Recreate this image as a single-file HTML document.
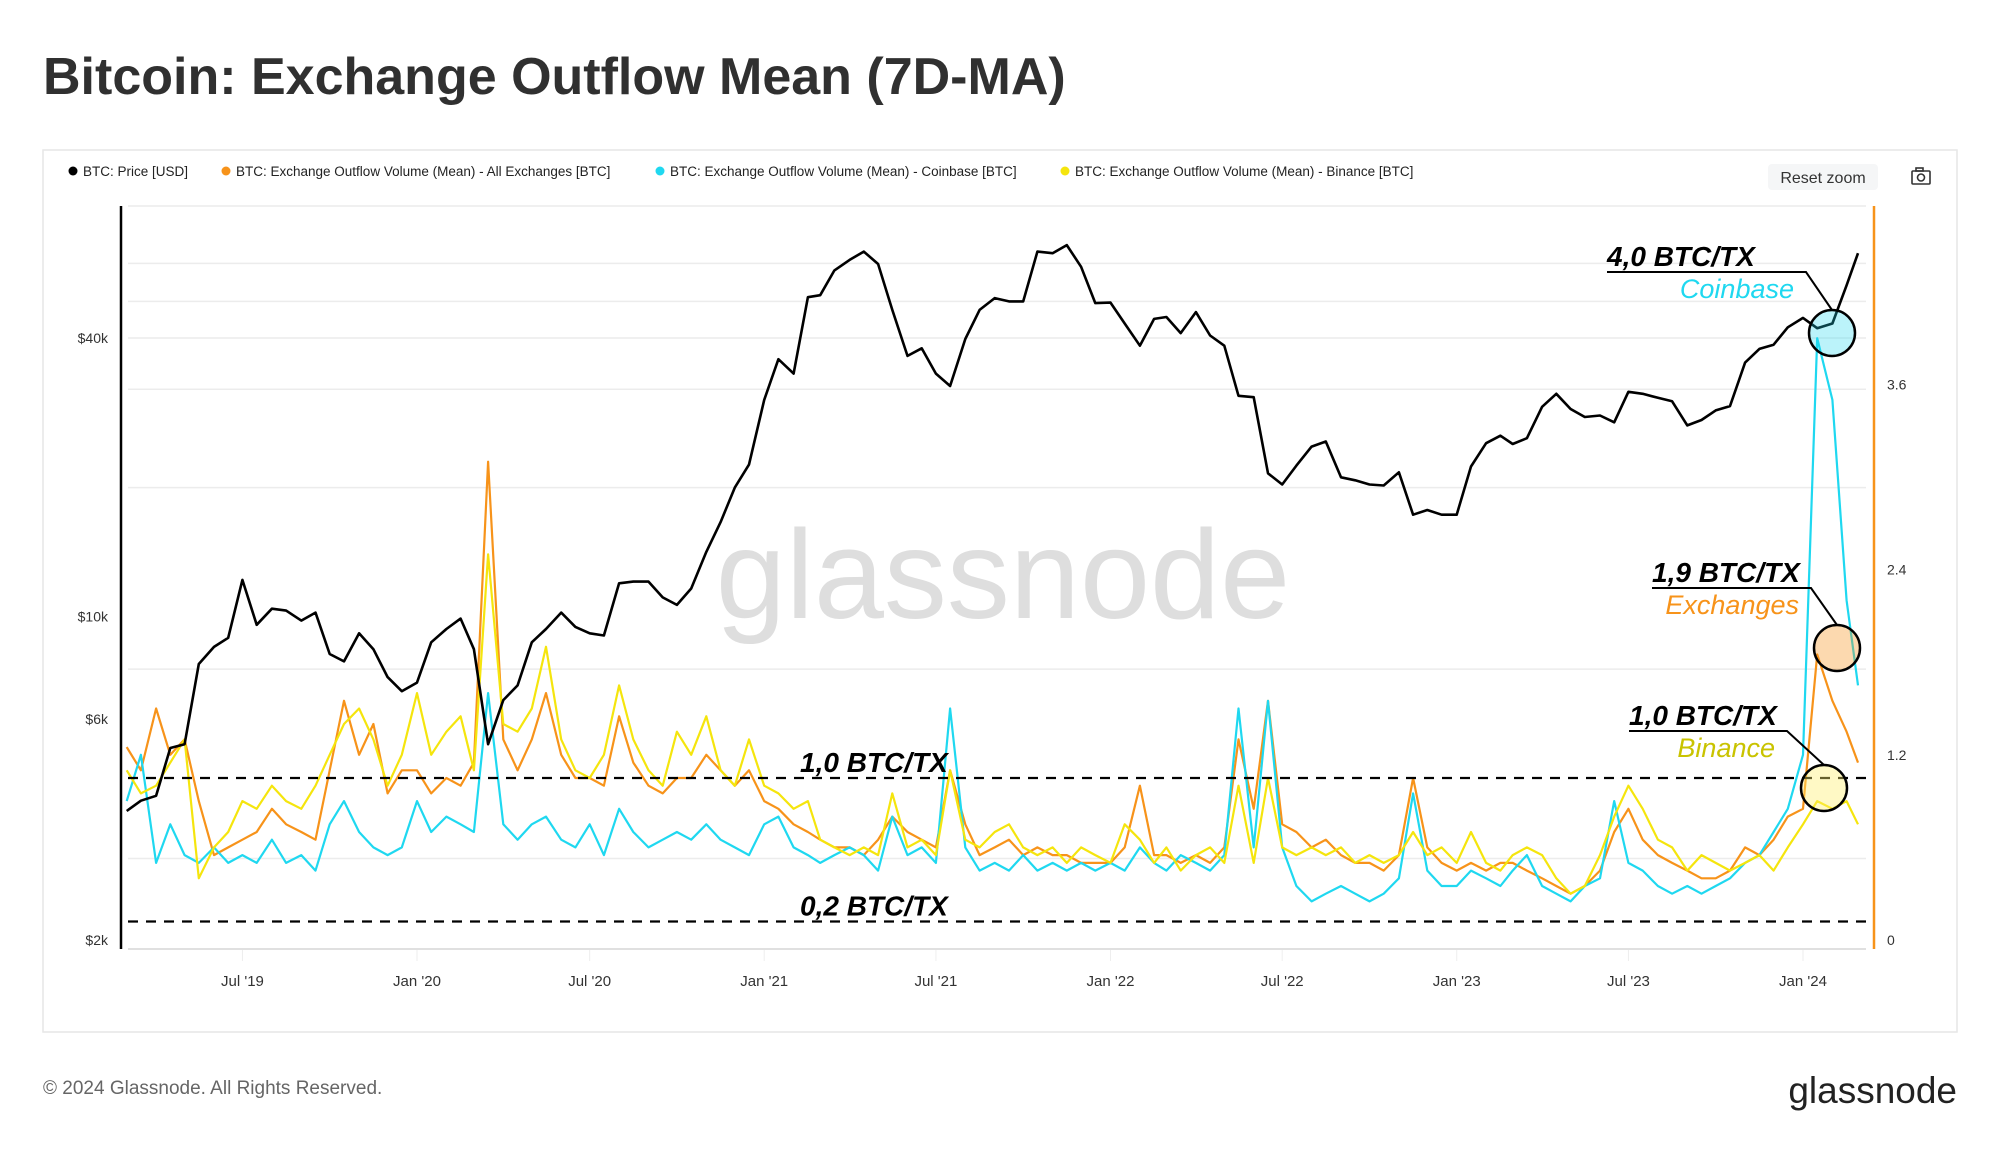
<!DOCTYPE html>
<html><head><meta charset="utf-8"><style>
html,body{margin:0;padding:0;background:#fff;}
body{width:2000px;height:1152px;position:relative;overflow:hidden;font-family:"Liberation Sans",sans-serif;}
svg{position:absolute;left:0;top:0;}
</style></head><body>
<svg id="chart" width="2000" height="1152" viewBox="0 0 2000 1152" xmlns="http://www.w3.org/2000/svg">
<text x="43" y="94" font-size="52" font-weight="bold" fill="#303030" font-family="Liberation Sans, sans-serif">Bitcoin: Exchange Outflow Mean (7D-MA)</text>
<rect x="43" y="150" width="1914" height="882" fill="#fff" stroke="#e6e6e6" stroke-width="1.5"/>
<g font-size="13.5" fill="#222">
<g><circle cx="73" cy="171" r="4.5" fill="#000"/><text x="83" y="176">BTC: Price [USD]</text></g>
<g><circle cx="226" cy="171" r="4.5" fill="#f7931a"/><text x="236" y="176">BTC: Exchange Outflow Volume (Mean) - All Exchanges [BTC]</text></g>
<g><circle cx="660" cy="171" r="4.5" fill="#1fd8f0"/><text x="670" y="176">BTC: Exchange Outflow Volume (Mean) - Coinbase [BTC]</text></g>
<g><circle cx="1065" cy="171" r="4.5" fill="#f5e50d"/><text x="1075" y="176">BTC: Exchange Outflow Volume (Mean) - Binance [BTC]</text></g>
</g>
<g><rect x="1768" y="164" width="110" height="26" rx="4" fill="#f5f6f7"/><text x="1823" y="183" font-size="16" text-anchor="middle" fill="#333">Reset zoom</text></g>
<g fill="none" stroke="#333" stroke-width="1.6"><rect x="1912" y="171" width="18" height="13" rx="1"/><rect x="1916" y="168" width="7" height="3"/><circle cx="1921" cy="177.5" r="3.5"/></g>
<text x="1003" y="618" font-size="126" fill="#dedede" text-anchor="middle" font-family="Liberation Sans, sans-serif">glassnode</text>
<g id="grid"></g>
<g id="axes"></g>
<g id="series"></g>
<g id="annot"></g>
<text x="43" y="1094" font-size="19" fill="#666">© 2024 Glassnode. All Rights Reserved.</text>
<text x="1957" y="1103" font-size="37" fill="#222" text-anchor="end">glassnode</text>
</svg>
<script>
const priceK = [3.8,4.0,4.1,5.2,5.3,7.9,8.6,9.0,12.0,9.6,10.4,10.3,9.8,10.2,8.3,8.0,9.2,8.5,7.4,6.9,
7.2,8.8,9.4,9.9,8.5,5.3,6.6,7.1,8.8,9.4,10.2,9.5,9.2,9.1,11.8,11.9,11.9,11.0,10.6,11.5,13.8,16.0,19.0,21.3,
29.4,36.0,33.5,49.0,49.5,56.0,59.0,61.5,57.8,46.0,36.6,38.0,33.5,31.5,39.8,46.0,48.8,48.0,48.0,61.5,61.0,63.5,57.0,47.6,
47.7,43.0,38.5,44.0,44.4,41.0,45.5,40.5,38.5,30.0,29.8,20.4,19.3,21.2,23.3,23.9,20.0,19.7,19.3,19.2,20.5,16.6,17.0,16.6,
16.6,21.1,23.7,24.6,23.6,24.3,28.4,30.3,28.1,27.0,27.2,26.3,30.6,30.3,29.7,29.2,25.9,26.6,27.9,28.5,35.4,37.9,38.7,42.2,
44.2,42.0,43.0,52.0,61.0];
const allExchanges = [1.25,1.1,1.5,1.2,1.3,0.9,0.55,0.6,0.65,0.7,0.85,0.75,0.7,0.65,1.1,1.55,1.2,1.4,0.95,1.1,
1.1,0.95,1.05,1.0,1.15,3.1,1.3,1.1,1.3,1.6,1.2,1.05,1.05,1.0,1.45,1.15,1.0,0.95,1.05,1.05,1.2,1.1,1.0,1.1,
0.9,0.85,0.75,0.7,0.65,0.6,0.6,0.55,0.65,0.8,0.7,0.65,0.6,1.1,0.75,0.55,0.6,0.65,0.55,0.6,0.55,0.55,0.5,0.5,
0.5,0.6,1.0,0.55,0.55,0.5,0.55,0.5,0.6,1.3,0.85,1.55,0.75,0.7,0.6,0.65,0.55,0.5,0.5,0.45,0.55,1.05,0.6,0.5,
0.45,0.5,0.45,0.5,0.5,0.45,0.4,0.35,0.3,0.35,0.45,0.7,0.85,0.65,0.55,0.5,0.45,0.4,0.4,0.45,0.6,0.55,0.65,0.8,
0.85,1.85,1.55,1.35,1.15];
const coinbase = [0.9,1.2,0.5,0.75,0.55,0.5,0.6,0.5,0.55,0.5,0.65,0.5,0.55,0.45,0.75,0.9,0.7,0.6,0.55,0.6,
0.9,0.7,0.8,0.75,0.7,1.6,0.75,0.65,0.75,0.8,0.65,0.6,0.75,0.55,0.85,0.7,0.6,0.65,0.7,0.65,0.75,0.65,0.6,0.55,
0.75,0.8,0.6,0.55,0.5,0.55,0.6,0.55,0.45,0.8,0.55,0.6,0.5,1.5,0.6,0.45,0.5,0.45,0.55,0.45,0.5,0.45,0.5,0.45,
0.5,0.45,0.6,0.5,0.45,0.55,0.5,0.45,0.55,1.5,0.6,1.55,0.6,0.35,0.25,0.3,0.35,0.3,0.25,0.3,0.4,0.95,0.45,0.35,
0.35,0.45,0.4,0.35,0.45,0.55,0.35,0.3,0.25,0.35,0.4,0.9,0.5,0.45,0.35,0.3,0.35,0.3,0.35,0.4,0.5,0.55,0.7,0.85,
1.2,3.9,3.5,2.2,1.65];
const binance = [1.1,0.95,1.0,1.15,1.3,0.4,0.6,0.7,0.9,0.85,1.0,0.9,0.85,1.0,1.2,1.4,1.5,1.3,1.0,1.2,
1.6,1.2,1.35,1.45,1.1,2.5,1.4,1.35,1.5,1.9,1.3,1.1,1.05,1.2,1.65,1.3,1.1,1.0,1.35,1.2,1.45,1.1,1.0,1.3,
1.0,0.95,0.85,0.9,0.65,0.6,0.55,0.6,0.55,0.95,0.6,0.65,0.55,1.1,0.65,0.6,0.7,0.75,0.6,0.55,0.6,0.5,0.6,0.55,
0.5,0.75,0.65,0.5,0.6,0.45,0.55,0.6,0.5,1.0,0.5,1.05,0.6,0.55,0.6,0.55,0.6,0.5,0.55,0.5,0.55,0.7,0.55,0.6,
0.5,0.7,0.5,0.45,0.55,0.6,0.55,0.4,0.3,0.35,0.55,0.8,1.0,0.85,0.65,0.6,0.45,0.55,0.5,0.45,0.5,0.55,0.45,0.6,
0.75,0.9,0.85,0.9,0.75];
const xTickLabels = ["Jul '19","Jan '20","Jul '20","Jan '21","Jul '21","Jan '22","Jul '22","Jan '23","Jul '23","Jan '24"];
const xTickDates = ["2019-07-01","2020-01-01","2020-07-01","2021-01-01","2021-07-01","2022-01-01","2022-07-01","2023-01-01","2023-07-01","2024-01-01"];
const leftTickLabels = ["$2k","$6k","$10k","$40k"];
const leftTickValues = [2000,6000,10000,40000];
const rightTickValues = [0,1.2,2.4,3.6];
const refLineValues = [1.05,0.12];
const refLineLabels = ["1,0 BTC/TX","0,2 BTC/TX"];

const NS="http://www.w3.org/2000/svg";
function mk(tag,attrs,parent,text){const e=document.createElementNS(NS,tag);for(const k in attrs)e.setAttribute(k,attrs[k]);if(text!==undefined)e.textContent=text;parent.appendChild(e);return e;}
const dates=[];
for(let y=2019;y<=2024;y++){for(let m=0;m<12;m++){if(y===2019&&m<2)continue;if(y===2024&&m>1)continue;dates.push(Date.UTC(y,m,1));dates.push(Date.UTC(y,m,16));}}
dates.push(Date.UTC(2024,1,28));
const PL=128,PR=1866,PT=206,PB=949;
function xS(t){return 417+(t-Date.UTC(2020,0,1))/(365.25*864e5)*346.5;}
function yL(p){return 940-(Math.log10(p)-Math.log10(2000))*462.7;}
function yR(v){return 940-v*154.3;}
const grid=document.getElementById('grid'),axes=document.getElementById('axes'),ser=document.getElementById('series'),ann=document.getElementById('annot');
[PT].concat([58000,48000,40000,31000,19000,7700,3000].map(yL)).forEach(function(y){
 const g=mk('line',{x1:PL,x2:PR,y1:y,y2:y,stroke:'#ececec','stroke-width':1.5},grid);
 
 
});
xTickDates.forEach(function(d,i){
 const x=xS(Date.parse(d));
 const g=mk('line',{x1:x,x2:x,y1:PB,y2:PB+12,stroke:'#eee','stroke-width':1},grid);
 
 
 const t=mk('text',{x:x,y:986,'font-size':15,'text-anchor':'middle',fill:'#333'},axes,xTickLabels[i]);
 
 
});
const xa=mk('line',{x1:PL,x2:PR,y1:PB,y2:PB,stroke:'#e0e0e0','stroke-width':2},axes);


const la=mk('line',{x1:121,x2:121,y1:PT,y2:PB,stroke:'#000','stroke-width':2.5},axes);


const ra=mk('line',{x1:1874,x2:1874,y1:PT,y2:PB,stroke:'#f7931a','stroke-width':2.5},axes);


leftTickValues.forEach(function(v,i){
 const t=mk('text',{x:108,y:yL(v)+5,'font-size':14,'text-anchor':'end',fill:'#333'},axes,leftTickLabels[i]);
 
 
});
rightTickValues.forEach(function(v){
 const t=mk('text',{x:1887,y:yR(v)+5,'font-size':14,fill:'#333'},axes,v===0?'0':v.toFixed(1));
 
 
});
refLineValues.forEach(function(v,i){
 const l=mk('line',{x1:PL,x2:PR,y1:yR(v),y2:yR(v),stroke:'#000','stroke-width':2.2,'stroke-dasharray':'10 8'},ann);
 
 
 const t=mk('text',{x:800,y:yR(v)-6,'font-size':28,'font-weight':'bold','font-style':'italic',fill:'#000','font-family':'Liberation Sans Narrow, Liberation Sans, sans-serif'},ann,refLineLabels[i]);
 
 
});
function path(vals,yf,color,w,name){
 let d='';vals.forEach(function(v,i){d+=(i?'L':'M')+xS(dates[i]).toFixed(1)+','+yf(v).toFixed(1);});
 const p=mk('path',{d:d,fill:'none',stroke:color,'stroke-width':w,'stroke-linejoin':'round'},ser);
 
 
}
path(allExchanges,yR,'#f7931a',2.2,'all-exchanges-line');
path(coinbase,yR,'#1fd8f0',2.2,'coinbase-line');
path(binance,yR,'#f5e50d',2.2,'binance-line');
path(priceK.map(function(v){return v*1000;}),yL,'#000',2.6,'price-line');
function callout(label,sub,subColor,tx,ty,ux2,cx,cy,fill,name){
 const g=mk('g',{},ann);
 
 
 mk('circle',{cx:cx,cy:cy,r:23,fill:fill,stroke:'#000','stroke-width':2.5},g);
 mk('polyline',{points:tx+','+(ty+6)+' '+ux2+','+(ty+6)+' '+cx+','+(cy-23),fill:'none',stroke:'#000','stroke-width':2},g);
 mk('text',{x:tx,y:ty,'font-size':28,'font-weight':'bold','font-style':'italic',fill:'#000','font-family':'Liberation Sans Narrow, Liberation Sans, sans-serif'},g,label);
 mk('text',{x:ux2-12,y:ty+32,'font-size':27,'font-style':'italic',fill:subColor,'text-anchor':'end'},g,sub);
}
callout('4,0 BTC/TX','Coinbase','#1fd8f0',1607,266,1806,1832,333,'rgba(31,216,240,0.3)','coinbase-callout');
callout('1,9 BTC/TX','Exchanges','#f7931a',1652,582,1811,1837,648,'rgba(247,147,26,0.35)','exchanges-callout');
callout('1,0 BTC/TX','Binance','#c9c300',1629,725,1787,1824,788,'rgba(255,240,110,0.4)','binance-callout');
</script>
</body></html>
